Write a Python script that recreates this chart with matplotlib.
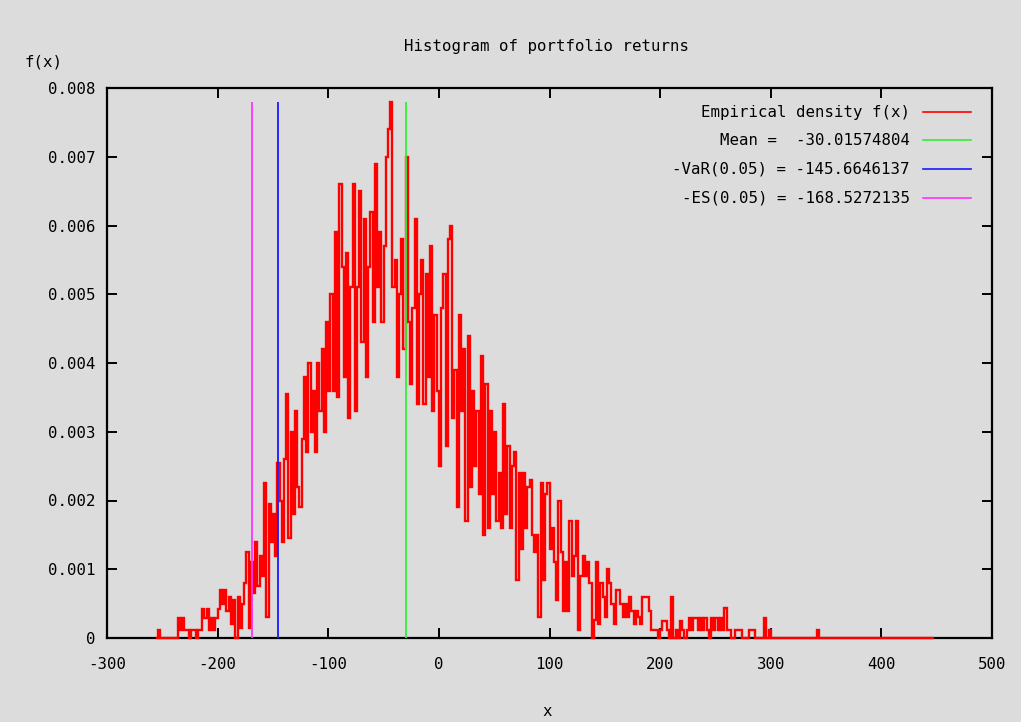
import numpy as np
import matplotlib
matplotlib.use('Agg')
import matplotlib.pyplot as plt

# Histogram of portfolio returns
# bins are 2 wide starting at -256, density given in units of 1e-4
bin_start = -256
bin_width = 2
density_e4 = [
    0, 1.2, 0, 0, 0,   0, 0, 0, 0, 0,
    2.9, 1.2, 2.9, 1.2, 1.2,   0, 1.2, 1.2, 0, 1.2,
    1.2, 4.2, 2.9, 4.2, 1.2,   2.9, 1.2, 2.9, 4.2, 7.0,
    5.0, 7.0, 4.0, 6.0, 2.0,   5.5, 0, 6.0, 1.5, 5.0,
    8.0, 12.5, 1.5, 11.0, 6.5,   14.0, 7.5, 12.0, 9.0, 22.5,
    3.0, 19.5, 14.0, 18.0, 12.0,   25.5, 20.0, 14.0, 26.0, 35.5,
    14.5, 30.0, 18.0, 33.0, 22.0,   19.0, 29.0, 38.0, 27.0, 40.0,
    30.0, 36.0, 27.0, 40.0, 33.0,   42.0, 30.0, 46.0, 36.0, 50.0,
    36.0, 59.0, 35.0, 66.0, 54.0,   38.0, 56.0, 32.0, 51.0, 66.0,
    33.0, 51.0, 65.0, 43.0, 61.0,   38.0, 54.0, 62.0, 46.0, 69.0,
    51.0, 59.0, 46.0, 57.0, 70.0,   74.0, 78.0, 51.0, 55.0, 38.0,
    50.0, 58.0, 42.0, 70.0, 46.0,   37.0, 48.0, 61.0, 34.0, 50.0,
    55.0, 34.0, 53.0, 38.0, 57.0,   33.0, 47.0, 36.0, 25.0, 48.0,
    53.0, 28.0, 58.0, 60.0, 32.0,   39.0, 19.0, 47.0, 33.0, 42.0,
    17.0, 44.0, 22.0, 36.0, 25.0,   33.0, 21.0, 41.0, 15.0, 37.0,
    16.0, 33.0, 21.0, 30.0, 17.0,   24.0, 16.0, 34.0, 18.0, 28.0,
    16.0, 25.0, 27.0, 8.5, 24.0,   13.0, 24.0, 16.0, 22.0, 23.0,
    15.0, 12.5, 15.0, 3.0, 22.5,   8.5, 21.0, 22.5, 13.0, 16.0,
    11.0, 5.5, 20.0, 12.5, 4.0,   11.0, 4.0, 17.0, 9.0, 12.0,
    17.0, 1.2, 9.0, 12.0, 9.0,   11.0, 8.0, 0.0, 2.6, 11.0,
    2.0, 8.0, 6.0, 3.0, 10.0,   8.0, 5.0, 2.0, 7.0, 7.0,
    5.0, 3.0, 5.0, 3.0, 6.0,   4.0, 2.0, 4.0, 3.0, 2.0,
    6.0, 6.0, 6.0, 4.0, 1.2,   1.2, 1.2, 0.0, 1.2, 2.5,
    2.5, 1.2, 0.0, 6.0, 0.0,   1.2, 0.0, 2.5, 1.2, 0.0,
    1.2, 2.9, 1.2, 2.9, 2.9,   1.2, 2.9, 1.2, 2.9, 1.2,
    0.0, 2.9, 1.2, 2.9, 1.2,   2.9, 1.2, 4.3, 1.2, 1.2,
    0, 0, 1.2, 1.2, 1.2,   0, 0, 0, 1.2, 1.2,
    1.2, 0, 0, 0, 0,   2.9, 0, 1.2, 0, 0,
    0, 0, 0, 0, 0, 0, 0, 0, 0, 0,
    0, 0, 0, 0, 0, 0, 0, 0, 0, 1.2,
    0, 0, 0, 0, 0, 0, 0, 0, 0, 0,
    0, 0, 0, 0, 0, 0, 0, 0, 0, 0,
    0, 0, 0, 0, 0, 0, 0, 0, 0, 0,
    0, 0, 0, 0, 0, 0, 0, 0, 0, 0,
    0, 0, 0, 0, 0, 0, 0, 0, 0, 0,
    0, 0,
]

# Risk figures
mean_ret = -30.01574804
var_05 = -145.6646137
es_05 = -168.5272135

x_ticks = [-300, -200, -100, 0, 100, 200, 300, 400, 500]
y_ticks = [0, 0.001, 0.002, 0.003, 0.004, 0.005, 0.006, 0.007, 0.008]
y_tick_labels = ['0', '0.001', '0.002', '0.003', '0.004', '0.005', '0.006', '0.007', '0.008']

density = np.array(density_e4) * 1e-4
edges = bin_start + bin_width * np.arange(len(density) + 1)

plt.rcParams['font.family'] = ['DejaVu Sans Mono']
fsize = 11.3
bg = '#dcdcdc'

fig = plt.figure(figsize=(10.21, 7.22), dpi=100, facecolor=bg)
ax = fig.add_axes([107 / 1021, 1 - 638 / 722, 885 / 1021, 550 / 722])
ax.set_facecolor(bg)

# Empirical density as steps
ax.stairs(density, edges, color='#ff0000', lw=1.7, baseline=0, clip_on=False, zorder=3)

# Vertical lines for mean, VaR and ES
top = density.max()
stats = [
    ('Empirical density f(x)', None, '#ff0000'),
    ('Mean =  %.8f' % mean_ret, mean_ret, '#33ee33'),
    ('-VaR(0.05) = %.7f' % var_05, var_05, '#1a1aff'),
    ('-ES(0.05) = %.7f' % es_05, es_05, '#ff33ff'),
]
for label, xv, col in stats:
    if xv is not None:
        ax.vlines(xv, 0, top, color=col, lw=1.3, zorder=4)

# gnuplot style key: text right aligned, sample line after it
key_y = [0.956, 0.905, 0.853, 0.800]
for (label, xv, col), yk in zip(stats, key_y):
    ax.text(0.907, yk, label, transform=ax.transAxes, ha='right', va='center', fontsize=fsize)
    ax.plot([0.922, 0.976], [yk, yk], transform=ax.transAxes, color=col, lw=1.2)

ax.set_xlim(-300, 500)
ax.set_ylim(0, 0.008)
ax.set_xticks(x_ticks)
ax.set_xticklabels([str(t) for t in x_ticks])
ax.set_yticks(y_ticks)
ax.set_yticklabels(y_tick_labels)

for sp in ax.spines.values():
    sp.set_linewidth(1.6)
    sp.set_color('black')
    sp.set_zorder(2)

ax.tick_params(direction='in', length=7, width=1.4, top=True, right=True, labelsize=fsize)
ax.tick_params(axis='x', pad=14)
ax.tick_params(axis='y', pad=8)

fig.text(547 / 1021, 1 - 46 / 722, 'Histogram of portfolio returns', ha='center', va='center', fontsize=fsize)
fig.text(44 / 1021, 1 - 62 / 722, 'f(x)', ha='center', va='center', fontsize=fsize)
fig.text(547 / 1021, 1 - 711 / 722, 'x', ha='center', va='center', fontsize=fsize)

fig.savefig('out.png', dpi=100, facecolor=bg)
